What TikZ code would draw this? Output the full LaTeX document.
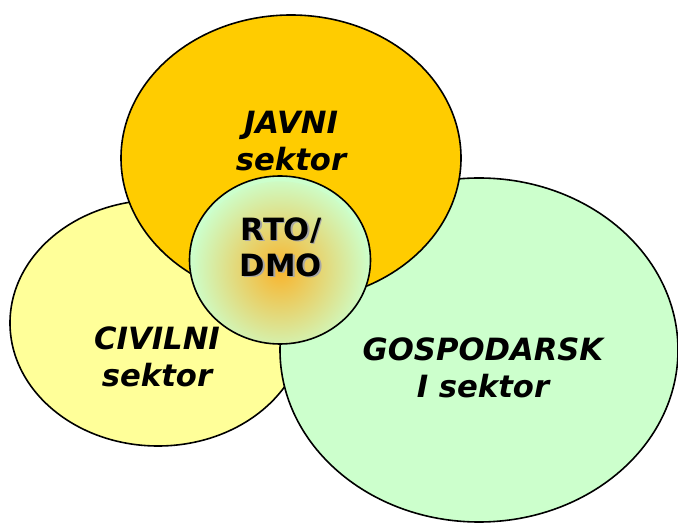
\documentclass[tikz,border=0pt]{standalone}
\usepackage{fontspec}
\setmainfont{DejaVu Sans}
\usetikzlibrary{shapes.geometric, calc}
\definecolor{javnicol}{HTML}{FFCC00}
\definecolor{civilcol}{HTML}{FFFF99}
\definecolor{gospcol}{HTML}{CCFFCC}
\definecolor{rtocol}{HTML}{F9B42C}
% text with a grey drop shadow
\newcommand{\shadowed}[1]{\makebox[0pt][l]{\hspace{1.2pt}\raisebox{-1.2pt}{\textcolor{black!35}{#1}}}#1}

\begin{document}
\begin{tikzpicture}[x=0.75pt, y=-0.75pt,
    sector/.style={ellipse, draw=black, line width=1.2pt, inner sep=0pt},
    sectext/.style={font=\fontsize{23}{27.75}\selectfont\bfseries\itshape, align=center, inner sep=0pt},
    rtotext/.style={font=\fontsize{23}{27}\selectfont\bfseries, align=center, inner sep=0pt}]
    \useasboundingbox (0,0) rectangle (678,523);
    % Three sectors (back to front)
    \node[sector, fill=civilcol, minimum width=222pt, minimum height=184.5pt] (civilni) at (158,323) {};
    \node[sector, fill=gospcol, minimum width=298.5pt, minimum height=258pt] (gosp) at (479,350) {};
    \node[sector, fill=javnicol, minimum width=255pt, minimum height=214.5pt] (javni) at (291,158) {};
    % RTO/DMO in the middle
    \node[sector, fill=gospcol, minimum width=135.75pt, minimum height=126pt,
        path picture={\shade[inner color=rtocol, outer color=gospcol]
            ($(path picture bounding box.center)+(0,12)$) circle (68pt);}] (rto) at (280,260) {};
    % Sector labels
    \node[sectext] (javnilbl) at (291,141) {JAVNI\\sektor};
    \node[sectext] (civillbl) at (157,357) {CIVILNI\\sektor};
    \node[sectext] (gosplbl) at (483,368) {GOSPODARSK\\I sektor};
    \node[rtotext] (rtolbl) at (281,248) {\shadowed{RTO/}\\\shadowed{DMO}};
\end{tikzpicture}
\end{document}
